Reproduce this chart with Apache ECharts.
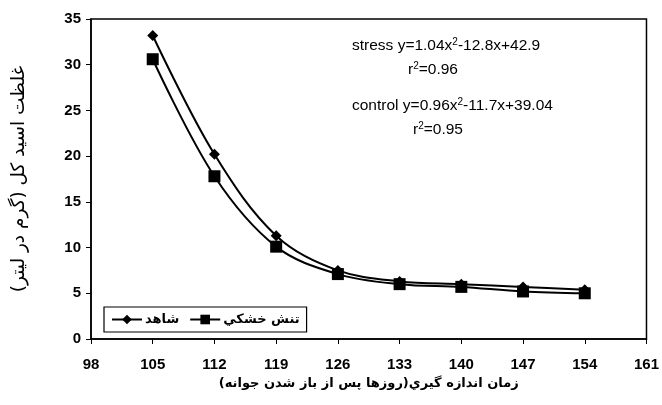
<!DOCTYPE html>
<html><head><meta charset="utf-8">
<script src="https://cdn.jsdelivr.net/npm/echarts@6/dist/echarts.min.js"></script>
<style>html,body{margin:0;padding:0;background:#fff}#c{width:662px;height:405px}</style>
</head><body><div id="c"></div>
<script>
const days = [105, 112, 119, 126, 133, 140, 147, 154];
const controlVals = [33.2, 20.2, 11.3, 7.5, 6.3, 6.0, 5.7, 5.4];
const stressVals = [30.6, 17.8, 10.1, 7.1, 6.0, 5.7, 5.2, 5.0];
const seriesNames = ['شاهد', 'تنش خشكي'];
const xTitle = 'زمان اندازه گيري(روزها پس از باز شدن جوانه)';
const yTitle = 'غلظت اسید کل (گرم در لیتر)';
const eqLines = ['stress y=1.04x{s|2}-12.8x+42.9', 'r{s|2}=0.96', 'control y=0.96x{s|2}-11.7x+39.04', 'r{s|2}=0.95'];

const chart = echarts.init(document.getElementById('c'));
const font = 'Liberation Sans, Arial, sans-serif';
const mk = (vals) => days.map((d, i) => [d, vals[i]]);
const eq = (txt, l, t) => ({
  type: 'text', left: l, top: t,
  style: {text: txt, fontFamily: font, fontSize: 15.5, fill: '#000',
    rich: {s: {fontFamily: font, fontSize: 10, fill: '#000', padding: [0, 0, 8, 0]}}}
});
chart.setOption({
  animation: false,
  backgroundColor: '#fff',
  grid: {left: 91, right: 14, top: 19, bottom: 66, show: true, borderColor: '#000', borderWidth: 1.5},
  xAxis: {
    type: 'value', min: 98, max: 161, interval: 7,
    name: xTitle, nameLocation: 'middle', nameGap: 38,
    nameTextStyle: {fontFamily: 'DejaVu Sans', fontWeight: 'bold', fontSize: 13, color: '#000'},
    axisLine: {lineStyle: {color: '#000', width: 1.5}},
    axisTick: {show: true, length: 5, lineStyle: {color: '#000'}},
    axisLabel: {fontFamily: font, fontWeight: 'bold', fontSize: 15, color: '#000', margin: 18},
    splitLine: {show: false}
  },
  yAxis: {
    type: 'value', min: 0, max: 35, interval: 5,
    name: yTitle, nameLocation: 'middle', nameGap: 62, nameRotate: 90,
    nameTextStyle: {fontFamily: 'DejaVu Sans', fontSize: 18.5, color: '#000'},
    axisLine: {show: true, lineStyle: {color: '#000', width: 1.5}},
    axisTick: {show: true, length: 5, lineStyle: {color: '#000'}},
    axisLabel: {fontFamily: font, fontWeight: 'bold', fontSize: 15, color: '#000', margin: 10},
    splitLine: {show: false}
  },
  legend: {
    left: 104, top: 307, orient: 'horizontal',
    data: seriesNames,
    itemWidth: 30, itemHeight: 12, itemGap: 10,
    backgroundColor: '#fff', borderColor: '#000', borderWidth: 1.2,
    padding: [6, 7], borderRadius: 0,
    textStyle: {fontFamily: 'DejaVu Sans', fontWeight: 'bold', fontSize: 13, color: '#000', padding: [0, 0, 0, -2]}
  },
  series: [
    {name: seriesNames[0], type: 'line', data: mk(controlVals), smooth: 0.35,
     symbol: 'diamond', symbolSize: 11, itemStyle: {color: '#000'},
     lineStyle: {color: '#000', width: 2}},
    {name: seriesNames[1], type: 'line', data: mk(stressVals), smooth: 0.35,
     symbol: 'rect', symbolSize: 12, itemStyle: {color: '#000'},
     lineStyle: {color: '#000', width: 2}}
  ],
  graphic: [
    eq(eqLines[0], 352, 37),
    eq(eqLines[1], 408, 61),
    eq(eqLines[2], 352, 97),
    eq(eqLines[3], 413, 121)
  ]
});
</script></body></html>
